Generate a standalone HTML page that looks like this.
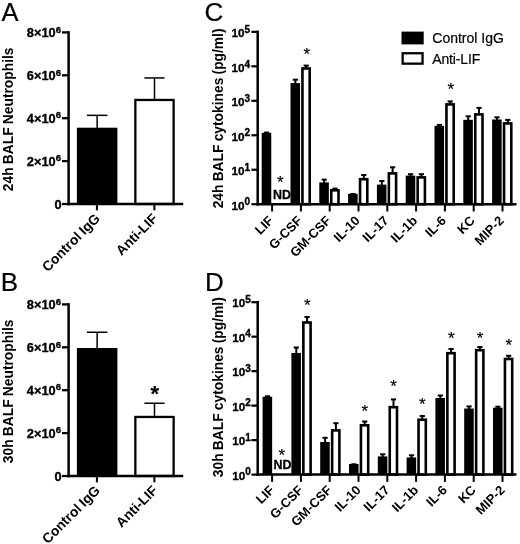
<!DOCTYPE html>
<html><head><meta charset="utf-8"><title>Figure</title>
<style>html,body{margin:0;padding:0;background:#fff}body{width:520px;height:544px;overflow:hidden}svg{display:block;filter:blur(0.4px)}text{font-family:"Liberation Sans", Arial, Helvetica, sans-serif}</style>
</head><body>
<svg width="520" height="544" viewBox="0 0 520 544" font-family='"Liberation Sans", Arial, Helvetica, sans-serif' fill="#000">
<text x="1.40" y="20.70" font-size="25.5" font-weight="normal" text-anchor="start" stroke="#000" stroke-width="0.2">A</text>
<text x="13.20" y="119.35" font-size="13.8" font-weight="bold" text-anchor="middle" transform="rotate(-90 13.20 119.35)" word-spacing="-0.6">24h BALF Neutrophils</text>
<line x1="97.15" y1="115.35" x2="97.15" y2="128.70" stroke="#000" stroke-width="1.5"/>
<line x1="86.90" y1="115.35" x2="107.40" y2="115.35" stroke="#000" stroke-width="1.5"/>
<rect x="76.90" y="127.70" width="40.50" height="76.30" fill="#000"/>
<line x1="154.50" y1="77.95" x2="154.50" y2="99.80" stroke="#000" stroke-width="1.5"/>
<line x1="144.40" y1="77.95" x2="164.60" y2="77.95" stroke="#000" stroke-width="1.5"/>
<rect x="135.35" y="99.95" width="38.30" height="104.05" fill="#fff" stroke="#000" stroke-width="2.3"/>
<line x1="68.60" y1="31.15" x2="68.60" y2="205.25" stroke="#000" stroke-width="2.5"/>
<line x1="67.35" y1="204.00" x2="183.20" y2="204.00" stroke="#000" stroke-width="2.5"/>
<line x1="62.00" y1="32.40" x2="68.60" y2="32.40" stroke="#000" stroke-width="2.3"/>
<text x="26.8" y="37.00" font-size="12.8" font-weight="bold" stroke="#000" stroke-width="0.35">8×10<tspan font-size="9.6" dy="-4.4">6</tspan></text>
<line x1="62.00" y1="75.30" x2="68.60" y2="75.30" stroke="#000" stroke-width="2.3"/>
<text x="26.8" y="79.90" font-size="12.8" font-weight="bold" stroke="#000" stroke-width="0.35">6×10<tspan font-size="9.6" dy="-4.4">6</tspan></text>
<line x1="62.00" y1="118.20" x2="68.60" y2="118.20" stroke="#000" stroke-width="2.3"/>
<text x="26.8" y="122.80" font-size="12.8" font-weight="bold" stroke="#000" stroke-width="0.35">4×10<tspan font-size="9.6" dy="-4.4">6</tspan></text>
<line x1="62.00" y1="161.10" x2="68.60" y2="161.10" stroke="#000" stroke-width="2.3"/>
<text x="26.8" y="165.70" font-size="12.8" font-weight="bold" stroke="#000" stroke-width="0.35">2×10<tspan font-size="9.6" dy="-4.4">6</tspan></text>
<line x1="62.00" y1="204.00" x2="68.60" y2="204.00" stroke="#000" stroke-width="2.3"/>
<text x="61.60" y="208.60" font-size="12.8" font-weight="bold" text-anchor="end" stroke="#000" stroke-width="0.35">0</text>
<line x1="96.90" y1="204.00" x2="96.90" y2="210.40" stroke="#000" stroke-width="2.0"/>
<text x="100.90" y="219.30" font-size="13.8" font-weight="bold" text-anchor="end" transform="rotate(-45 100.90 219.30)" word-spacing="-0.6">Control IgG</text>
<line x1="154.40" y1="204.00" x2="154.40" y2="210.40" stroke="#000" stroke-width="2.0"/>
<text x="158.40" y="219.30" font-size="13.8" font-weight="bold" text-anchor="end" transform="rotate(-45 158.40 219.30)" word-spacing="-0.6">Anti-LIF</text>
<text x="0.65" y="290.60" font-size="26" font-weight="normal" text-anchor="start" stroke="#000" stroke-width="0.2">B</text>
<text x="13.20" y="391.35" font-size="13.8" font-weight="bold" text-anchor="middle" transform="rotate(-90 13.20 391.35)" word-spacing="-0.6">30h BALF Neutrophils</text>
<line x1="97.15" y1="332.25" x2="97.15" y2="349.00" stroke="#000" stroke-width="1.5"/>
<line x1="86.90" y1="332.25" x2="107.40" y2="332.25" stroke="#000" stroke-width="1.5"/>
<rect x="76.90" y="348.00" width="40.50" height="128.00" fill="#000"/>
<line x1="154.50" y1="403.25" x2="154.50" y2="416.80" stroke="#000" stroke-width="1.5"/>
<line x1="144.40" y1="403.25" x2="164.60" y2="403.25" stroke="#000" stroke-width="1.5"/>
<rect x="135.35" y="416.95" width="38.30" height="59.05" fill="#fff" stroke="#000" stroke-width="2.3"/>
<line x1="68.60" y1="303.15" x2="68.60" y2="477.25" stroke="#000" stroke-width="2.5"/>
<line x1="67.35" y1="476.00" x2="183.20" y2="476.00" stroke="#000" stroke-width="2.5"/>
<line x1="62.00" y1="304.40" x2="68.60" y2="304.40" stroke="#000" stroke-width="2.3"/>
<text x="26.8" y="309.00" font-size="12.8" font-weight="bold" stroke="#000" stroke-width="0.35">8×10<tspan font-size="9.6" dy="-4.4">6</tspan></text>
<line x1="62.00" y1="347.30" x2="68.60" y2="347.30" stroke="#000" stroke-width="2.3"/>
<text x="26.8" y="351.90" font-size="12.8" font-weight="bold" stroke="#000" stroke-width="0.35">6×10<tspan font-size="9.6" dy="-4.4">6</tspan></text>
<line x1="62.00" y1="390.20" x2="68.60" y2="390.20" stroke="#000" stroke-width="2.3"/>
<text x="26.8" y="394.80" font-size="12.8" font-weight="bold" stroke="#000" stroke-width="0.35">4×10<tspan font-size="9.6" dy="-4.4">6</tspan></text>
<line x1="62.00" y1="433.10" x2="68.60" y2="433.10" stroke="#000" stroke-width="2.3"/>
<text x="26.8" y="437.70" font-size="12.8" font-weight="bold" stroke="#000" stroke-width="0.35">2×10<tspan font-size="9.6" dy="-4.4">6</tspan></text>
<line x1="62.00" y1="476.00" x2="68.60" y2="476.00" stroke="#000" stroke-width="2.3"/>
<text x="61.60" y="480.60" font-size="12.8" font-weight="bold" text-anchor="end" stroke="#000" stroke-width="0.35">0</text>
<line x1="96.90" y1="476.00" x2="96.90" y2="482.40" stroke="#000" stroke-width="2.0"/>
<text x="100.90" y="491.30" font-size="13.8" font-weight="bold" text-anchor="end" transform="rotate(-45 100.90 491.30)" word-spacing="-0.6">Control IgG</text>
<line x1="154.40" y1="476.00" x2="154.40" y2="482.40" stroke="#000" stroke-width="2.0"/>
<text x="158.40" y="491.30" font-size="13.8" font-weight="bold" text-anchor="end" transform="rotate(-45 158.40 491.30)" word-spacing="-0.6">Anti-LIF</text>
<text x="154.70" y="400.67" font-size="22" font-weight="bold" text-anchor="middle" stroke="#000" stroke-width="0.2">*</text>
<text x="204.50" y="20.50" font-size="26" font-weight="normal" text-anchor="start" stroke="#000" stroke-width="0.2">C</text>
<text x="222.80" y="118.40" font-size="13.8" font-weight="bold" text-anchor="middle" transform="rotate(-90 222.80 118.40)" word-spacing="-0.6">24h BALF cytokines (pg/ml)</text>
<line x1="266.60" y1="132.60" x2="266.60" y2="133.80" stroke="#000" stroke-width="2.0"/>
<line x1="264.00" y1="132.60" x2="269.20" y2="132.60" stroke="#000" stroke-width="2.0"/>
<rect x="261.70" y="132.80" width="9.55" height="71.40" fill="#000"/>
<line x1="295.40" y1="79.70" x2="295.40" y2="84.10" stroke="#000" stroke-width="2.0"/>
<line x1="292.80" y1="79.70" x2="298.00" y2="79.70" stroke="#000" stroke-width="2.0"/>
<rect x="290.50" y="83.10" width="9.55" height="121.10" fill="#000"/>
<line x1="306.20" y1="65.60" x2="306.20" y2="68.20" stroke="#000" stroke-width="2.0"/>
<line x1="303.60" y1="65.60" x2="308.80" y2="65.60" stroke="#000" stroke-width="2.0"/>
<rect x="302.45" y="68.50" width="7.25" height="135.70" fill="#fff" stroke="#000" stroke-width="2.6"/>
<line x1="324.20" y1="179.60" x2="324.20" y2="183.40" stroke="#000" stroke-width="2.0"/>
<line x1="321.60" y1="179.60" x2="326.80" y2="179.60" stroke="#000" stroke-width="2.0"/>
<rect x="319.30" y="182.40" width="9.55" height="21.80" fill="#000"/>
<line x1="335.00" y1="188.60" x2="335.00" y2="190.00" stroke="#000" stroke-width="2.0"/>
<line x1="332.40" y1="188.60" x2="337.60" y2="188.60" stroke="#000" stroke-width="2.0"/>
<rect x="331.25" y="190.30" width="7.25" height="13.90" fill="#fff" stroke="#000" stroke-width="2.6"/>
<line x1="353.00" y1="194.00" x2="353.00" y2="194.80" stroke="#000" stroke-width="2.0"/>
<line x1="350.40" y1="194.00" x2="355.60" y2="194.00" stroke="#000" stroke-width="2.0"/>
<rect x="348.10" y="193.80" width="9.55" height="10.40" fill="#000"/>
<line x1="363.80" y1="175.00" x2="363.80" y2="178.90" stroke="#000" stroke-width="2.0"/>
<line x1="361.20" y1="175.00" x2="366.40" y2="175.00" stroke="#000" stroke-width="2.0"/>
<rect x="360.05" y="179.20" width="7.25" height="25.00" fill="#fff" stroke="#000" stroke-width="2.6"/>
<line x1="381.80" y1="181.00" x2="381.80" y2="185.60" stroke="#000" stroke-width="2.0"/>
<line x1="379.20" y1="181.00" x2="384.40" y2="181.00" stroke="#000" stroke-width="2.0"/>
<rect x="376.90" y="184.60" width="9.55" height="19.60" fill="#000"/>
<line x1="392.60" y1="167.30" x2="392.60" y2="173.10" stroke="#000" stroke-width="2.0"/>
<line x1="390.00" y1="167.30" x2="395.20" y2="167.30" stroke="#000" stroke-width="2.0"/>
<rect x="388.85" y="173.40" width="7.25" height="30.80" fill="#fff" stroke="#000" stroke-width="2.6"/>
<line x1="410.60" y1="174.20" x2="410.60" y2="176.60" stroke="#000" stroke-width="2.0"/>
<line x1="408.00" y1="174.20" x2="413.20" y2="174.20" stroke="#000" stroke-width="2.0"/>
<rect x="405.70" y="175.60" width="9.55" height="28.60" fill="#000"/>
<line x1="421.40" y1="174.20" x2="421.40" y2="177.10" stroke="#000" stroke-width="2.0"/>
<line x1="418.80" y1="174.20" x2="424.00" y2="174.20" stroke="#000" stroke-width="2.0"/>
<rect x="417.65" y="177.40" width="7.25" height="26.80" fill="#fff" stroke="#000" stroke-width="2.6"/>
<line x1="439.40" y1="124.90" x2="439.40" y2="126.85" stroke="#000" stroke-width="2.0"/>
<line x1="436.80" y1="124.90" x2="442.00" y2="124.90" stroke="#000" stroke-width="2.0"/>
<rect x="434.50" y="125.85" width="9.55" height="78.35" fill="#000"/>
<line x1="450.20" y1="101.40" x2="450.20" y2="104.10" stroke="#000" stroke-width="2.0"/>
<line x1="447.60" y1="101.40" x2="452.80" y2="101.40" stroke="#000" stroke-width="2.0"/>
<rect x="446.45" y="104.40" width="7.25" height="99.80" fill="#fff" stroke="#000" stroke-width="2.6"/>
<line x1="468.20" y1="116.30" x2="468.20" y2="120.80" stroke="#000" stroke-width="2.0"/>
<line x1="465.60" y1="116.30" x2="470.80" y2="116.30" stroke="#000" stroke-width="2.0"/>
<rect x="463.30" y="119.80" width="9.55" height="84.40" fill="#000"/>
<line x1="479.00" y1="107.90" x2="479.00" y2="114.10" stroke="#000" stroke-width="2.0"/>
<line x1="476.40" y1="107.90" x2="481.60" y2="107.90" stroke="#000" stroke-width="2.0"/>
<rect x="475.25" y="114.40" width="7.25" height="89.80" fill="#fff" stroke="#000" stroke-width="2.6"/>
<line x1="497.00" y1="117.30" x2="497.00" y2="120.50" stroke="#000" stroke-width="2.0"/>
<line x1="494.40" y1="117.30" x2="499.60" y2="117.30" stroke="#000" stroke-width="2.0"/>
<rect x="492.10" y="119.50" width="9.55" height="84.70" fill="#000"/>
<line x1="507.80" y1="119.90" x2="507.80" y2="123.10" stroke="#000" stroke-width="2.0"/>
<line x1="505.20" y1="119.90" x2="510.40" y2="119.90" stroke="#000" stroke-width="2.0"/>
<rect x="504.05" y="123.40" width="7.25" height="80.80" fill="#fff" stroke="#000" stroke-width="2.6"/>
<line x1="257.70" y1="30.60" x2="257.70" y2="205.45" stroke="#000" stroke-width="2.5"/>
<line x1="256.45" y1="204.20" x2="516.50" y2="204.20" stroke="#000" stroke-width="2.5"/>
<line x1="251.40" y1="31.85" x2="257.70" y2="31.85" stroke="#000" stroke-width="2.2"/>
<text x="231.6" y="37.35" font-size="11.7" font-weight="bold" stroke="#000" stroke-width="0.35">10<tspan font-size="10" dy="-4.3">5</tspan></text>
<line x1="251.40" y1="66.32" x2="257.70" y2="66.32" stroke="#000" stroke-width="2.2"/>
<text x="231.6" y="71.82" font-size="11.7" font-weight="bold" stroke="#000" stroke-width="0.35">10<tspan font-size="10" dy="-4.3">4</tspan></text>
<line x1="251.40" y1="100.79" x2="257.70" y2="100.79" stroke="#000" stroke-width="2.2"/>
<text x="231.6" y="106.29" font-size="11.7" font-weight="bold" stroke="#000" stroke-width="0.35">10<tspan font-size="10" dy="-4.3">3</tspan></text>
<line x1="251.40" y1="135.26" x2="257.70" y2="135.26" stroke="#000" stroke-width="2.2"/>
<text x="231.6" y="140.76" font-size="11.7" font-weight="bold" stroke="#000" stroke-width="0.35">10<tspan font-size="10" dy="-4.3">2</tspan></text>
<line x1="251.40" y1="169.73" x2="257.70" y2="169.73" stroke="#000" stroke-width="2.2"/>
<text x="231.6" y="175.23" font-size="11.7" font-weight="bold" stroke="#000" stroke-width="0.35">10<tspan font-size="10" dy="-4.3">1</tspan></text>
<line x1="251.40" y1="204.20" x2="257.70" y2="204.20" stroke="#000" stroke-width="2.2"/>
<text x="231.6" y="209.70" font-size="11.7" font-weight="bold" stroke="#000" stroke-width="0.35">10<tspan font-size="10" dy="-4.3">0</tspan></text>
<line x1="272.10" y1="204.20" x2="272.10" y2="211.50" stroke="#000" stroke-width="2.0"/>
<text x="274.10" y="221.40" font-size="13" font-weight="bold" text-anchor="end" transform="rotate(-45 274.10 221.40)">LIF</text>
<line x1="300.90" y1="204.20" x2="300.90" y2="211.50" stroke="#000" stroke-width="2.0"/>
<text x="302.90" y="221.40" font-size="13" font-weight="bold" text-anchor="end" transform="rotate(-45 302.90 221.40)">G-CSF</text>
<line x1="329.70" y1="204.20" x2="329.70" y2="211.50" stroke="#000" stroke-width="2.0"/>
<text x="331.70" y="221.40" font-size="13" font-weight="bold" text-anchor="end" transform="rotate(-45 331.70 221.40)">GM-CSF</text>
<line x1="358.50" y1="204.20" x2="358.50" y2="211.50" stroke="#000" stroke-width="2.0"/>
<text x="360.50" y="221.40" font-size="13" font-weight="bold" text-anchor="end" transform="rotate(-45 360.50 221.40)">IL-10</text>
<line x1="387.30" y1="204.20" x2="387.30" y2="211.50" stroke="#000" stroke-width="2.0"/>
<text x="389.30" y="221.40" font-size="13" font-weight="bold" text-anchor="end" transform="rotate(-45 389.30 221.40)">IL-17</text>
<line x1="416.10" y1="204.20" x2="416.10" y2="211.50" stroke="#000" stroke-width="2.0"/>
<text x="418.10" y="221.40" font-size="13" font-weight="bold" text-anchor="end" transform="rotate(-45 418.10 221.40)">IL-1b</text>
<line x1="444.90" y1="204.20" x2="444.90" y2="211.50" stroke="#000" stroke-width="2.0"/>
<text x="446.90" y="221.40" font-size="13" font-weight="bold" text-anchor="end" transform="rotate(-45 446.90 221.40)">IL-6</text>
<line x1="473.70" y1="204.20" x2="473.70" y2="211.50" stroke="#000" stroke-width="2.0"/>
<text x="475.70" y="221.40" font-size="13" font-weight="bold" text-anchor="end" transform="rotate(-45 475.70 221.40)">KC</text>
<line x1="502.50" y1="204.20" x2="502.50" y2="211.50" stroke="#000" stroke-width="2.0"/>
<text x="504.50" y="221.40" font-size="13" font-weight="bold" text-anchor="end" transform="rotate(-45 504.50 221.40)">MIP-2</text>
<text x="306.80" y="60.10" font-size="17" font-weight="normal" text-anchor="middle" stroke="#000" stroke-width="0.2">*</text>
<text x="450.70" y="94.90" font-size="17" font-weight="normal" text-anchor="middle" stroke="#000" stroke-width="0.2">*</text>
<text x="280.40" y="187.80" font-size="17" font-weight="normal" text-anchor="middle" stroke="#000" stroke-width="0.2">*</text>
<text x="282.00" y="198.50" font-size="12.4" font-weight="bold" text-anchor="middle" stroke="#000" stroke-width="0.3">ND</text>
<text x="204.90" y="291.00" font-size="26" font-weight="normal" text-anchor="start" stroke="#000" stroke-width="0.2">D</text>
<text x="222.80" y="387.20" font-size="13.8" font-weight="bold" text-anchor="middle" transform="rotate(-90 222.80 387.20)" word-spacing="-0.6">30h BALF cytokines (pg/ml)</text>
<line x1="267.50" y1="396.30" x2="267.50" y2="397.80" stroke="#000" stroke-width="2.0"/>
<line x1="264.90" y1="396.30" x2="270.10" y2="396.30" stroke="#000" stroke-width="2.0"/>
<rect x="262.60" y="396.80" width="9.55" height="77.80" fill="#000"/>
<line x1="296.30" y1="347.50" x2="296.30" y2="354.00" stroke="#000" stroke-width="2.0"/>
<line x1="293.70" y1="347.50" x2="298.90" y2="347.50" stroke="#000" stroke-width="2.0"/>
<rect x="291.40" y="353.00" width="9.55" height="121.60" fill="#000"/>
<line x1="307.10" y1="317.00" x2="307.10" y2="322.20" stroke="#000" stroke-width="2.0"/>
<line x1="304.50" y1="317.00" x2="309.70" y2="317.00" stroke="#000" stroke-width="2.0"/>
<rect x="303.35" y="322.50" width="7.25" height="152.10" fill="#fff" stroke="#000" stroke-width="2.6"/>
<line x1="325.10" y1="437.80" x2="325.10" y2="443.00" stroke="#000" stroke-width="2.0"/>
<line x1="322.50" y1="437.80" x2="327.70" y2="437.80" stroke="#000" stroke-width="2.0"/>
<rect x="320.20" y="442.00" width="9.55" height="32.60" fill="#000"/>
<line x1="335.90" y1="423.20" x2="335.90" y2="430.10" stroke="#000" stroke-width="2.0"/>
<line x1="333.30" y1="423.20" x2="338.50" y2="423.20" stroke="#000" stroke-width="2.0"/>
<rect x="332.15" y="430.40" width="7.25" height="44.20" fill="#fff" stroke="#000" stroke-width="2.6"/>
<line x1="353.90" y1="464.30" x2="353.90" y2="465.00" stroke="#000" stroke-width="2.0"/>
<line x1="351.30" y1="464.30" x2="356.50" y2="464.30" stroke="#000" stroke-width="2.0"/>
<rect x="349.00" y="464.00" width="9.55" height="10.60" fill="#000"/>
<line x1="364.70" y1="421.50" x2="364.70" y2="425.00" stroke="#000" stroke-width="2.0"/>
<line x1="362.10" y1="421.50" x2="367.30" y2="421.50" stroke="#000" stroke-width="2.0"/>
<rect x="360.95" y="425.30" width="7.25" height="49.30" fill="#fff" stroke="#000" stroke-width="2.6"/>
<line x1="382.70" y1="454.30" x2="382.70" y2="457.40" stroke="#000" stroke-width="2.0"/>
<line x1="380.10" y1="454.30" x2="385.30" y2="454.30" stroke="#000" stroke-width="2.0"/>
<rect x="377.80" y="456.40" width="9.55" height="18.20" fill="#000"/>
<line x1="393.50" y1="399.40" x2="393.50" y2="406.90" stroke="#000" stroke-width="2.0"/>
<line x1="390.90" y1="399.40" x2="396.10" y2="399.40" stroke="#000" stroke-width="2.0"/>
<rect x="389.75" y="407.20" width="7.25" height="67.40" fill="#fff" stroke="#000" stroke-width="2.6"/>
<line x1="411.50" y1="455.30" x2="411.50" y2="458.40" stroke="#000" stroke-width="2.0"/>
<line x1="408.90" y1="455.30" x2="414.10" y2="455.30" stroke="#000" stroke-width="2.0"/>
<rect x="406.60" y="457.40" width="9.55" height="17.20" fill="#000"/>
<line x1="422.30" y1="416.00" x2="422.30" y2="419.40" stroke="#000" stroke-width="2.0"/>
<line x1="419.70" y1="416.00" x2="424.90" y2="416.00" stroke="#000" stroke-width="2.0"/>
<rect x="418.55" y="419.70" width="7.25" height="54.90" fill="#fff" stroke="#000" stroke-width="2.6"/>
<line x1="440.30" y1="395.50" x2="440.30" y2="399.00" stroke="#000" stroke-width="2.0"/>
<line x1="437.70" y1="395.50" x2="442.90" y2="395.50" stroke="#000" stroke-width="2.0"/>
<rect x="435.40" y="398.00" width="9.55" height="76.60" fill="#000"/>
<line x1="451.10" y1="349.00" x2="451.10" y2="352.90" stroke="#000" stroke-width="2.0"/>
<line x1="448.50" y1="349.00" x2="453.70" y2="349.00" stroke="#000" stroke-width="2.0"/>
<rect x="447.35" y="353.20" width="7.25" height="121.40" fill="#fff" stroke="#000" stroke-width="2.6"/>
<line x1="469.10" y1="406.40" x2="469.10" y2="409.50" stroke="#000" stroke-width="2.0"/>
<line x1="466.50" y1="406.40" x2="471.70" y2="406.40" stroke="#000" stroke-width="2.0"/>
<rect x="464.20" y="408.50" width="9.55" height="66.10" fill="#000"/>
<line x1="479.90" y1="347.00" x2="479.90" y2="349.90" stroke="#000" stroke-width="2.0"/>
<line x1="477.30" y1="347.00" x2="482.50" y2="347.00" stroke="#000" stroke-width="2.0"/>
<rect x="476.15" y="350.20" width="7.25" height="124.40" fill="#fff" stroke="#000" stroke-width="2.6"/>
<line x1="497.90" y1="406.70" x2="497.90" y2="408.70" stroke="#000" stroke-width="2.0"/>
<line x1="495.30" y1="406.70" x2="500.50" y2="406.70" stroke="#000" stroke-width="2.0"/>
<rect x="493.00" y="407.70" width="9.55" height="66.90" fill="#000"/>
<line x1="508.70" y1="355.80" x2="508.70" y2="358.70" stroke="#000" stroke-width="2.0"/>
<line x1="506.10" y1="355.80" x2="511.30" y2="355.80" stroke="#000" stroke-width="2.0"/>
<rect x="504.95" y="359.00" width="7.25" height="115.60" fill="#fff" stroke="#000" stroke-width="2.6"/>
<line x1="257.70" y1="300.95" x2="257.70" y2="475.85" stroke="#000" stroke-width="2.5"/>
<line x1="256.45" y1="474.60" x2="516.50" y2="474.60" stroke="#000" stroke-width="2.5"/>
<line x1="251.40" y1="302.20" x2="257.70" y2="302.20" stroke="#000" stroke-width="2.2"/>
<text x="232.2" y="307.20" font-size="11.7" font-weight="bold" stroke="#000" stroke-width="0.35">10<tspan font-size="10" dy="-4.3">5</tspan></text>
<line x1="251.40" y1="336.68" x2="257.70" y2="336.68" stroke="#000" stroke-width="2.2"/>
<text x="232.2" y="341.68" font-size="11.7" font-weight="bold" stroke="#000" stroke-width="0.35">10<tspan font-size="10" dy="-4.3">4</tspan></text>
<line x1="251.40" y1="371.16" x2="257.70" y2="371.16" stroke="#000" stroke-width="2.2"/>
<text x="232.2" y="376.16" font-size="11.7" font-weight="bold" stroke="#000" stroke-width="0.35">10<tspan font-size="10" dy="-4.3">3</tspan></text>
<line x1="251.40" y1="405.64" x2="257.70" y2="405.64" stroke="#000" stroke-width="2.2"/>
<text x="232.2" y="410.64" font-size="11.7" font-weight="bold" stroke="#000" stroke-width="0.35">10<tspan font-size="10" dy="-4.3">2</tspan></text>
<line x1="251.40" y1="440.12" x2="257.70" y2="440.12" stroke="#000" stroke-width="2.2"/>
<text x="232.2" y="445.12" font-size="11.7" font-weight="bold" stroke="#000" stroke-width="0.35">10<tspan font-size="10" dy="-4.3">1</tspan></text>
<line x1="251.40" y1="474.60" x2="257.70" y2="474.60" stroke="#000" stroke-width="2.2"/>
<text x="232.2" y="479.60" font-size="11.7" font-weight="bold" stroke="#000" stroke-width="0.35">10<tspan font-size="10" dy="-4.3">0</tspan></text>
<line x1="272.10" y1="474.60" x2="272.10" y2="481.90" stroke="#000" stroke-width="2.0"/>
<text x="275.10" y="490.80" font-size="13" font-weight="bold" text-anchor="end" transform="rotate(-45 275.10 490.80)">LIF</text>
<line x1="300.90" y1="474.60" x2="300.90" y2="481.90" stroke="#000" stroke-width="2.0"/>
<text x="303.90" y="490.80" font-size="13" font-weight="bold" text-anchor="end" transform="rotate(-45 303.90 490.80)">G-CSF</text>
<line x1="329.70" y1="474.60" x2="329.70" y2="481.90" stroke="#000" stroke-width="2.0"/>
<text x="332.70" y="490.80" font-size="13" font-weight="bold" text-anchor="end" transform="rotate(-45 332.70 490.80)">GM-CSF</text>
<line x1="358.50" y1="474.60" x2="358.50" y2="481.90" stroke="#000" stroke-width="2.0"/>
<text x="361.50" y="490.80" font-size="13" font-weight="bold" text-anchor="end" transform="rotate(-45 361.50 490.80)">IL-10</text>
<line x1="387.30" y1="474.60" x2="387.30" y2="481.90" stroke="#000" stroke-width="2.0"/>
<text x="390.30" y="490.80" font-size="13" font-weight="bold" text-anchor="end" transform="rotate(-45 390.30 490.80)">IL-17</text>
<line x1="416.10" y1="474.60" x2="416.10" y2="481.90" stroke="#000" stroke-width="2.0"/>
<text x="419.10" y="490.80" font-size="13" font-weight="bold" text-anchor="end" transform="rotate(-45 419.10 490.80)">IL-1b</text>
<line x1="444.90" y1="474.60" x2="444.90" y2="481.90" stroke="#000" stroke-width="2.0"/>
<text x="447.90" y="490.80" font-size="13" font-weight="bold" text-anchor="end" transform="rotate(-45 447.90 490.80)">IL-6</text>
<line x1="473.70" y1="474.60" x2="473.70" y2="481.90" stroke="#000" stroke-width="2.0"/>
<text x="476.70" y="490.80" font-size="13" font-weight="bold" text-anchor="end" transform="rotate(-45 476.70 490.80)">KC</text>
<line x1="502.50" y1="474.60" x2="502.50" y2="481.90" stroke="#000" stroke-width="2.0"/>
<text x="505.50" y="490.80" font-size="13" font-weight="bold" text-anchor="end" transform="rotate(-45 505.50 490.80)">MIP-2</text>
<text x="307.30" y="310.80" font-size="17" font-weight="normal" text-anchor="middle" stroke="#000" stroke-width="0.2">*</text>
<text x="281.70" y="460.50" font-size="17" font-weight="normal" text-anchor="middle" stroke="#000" stroke-width="0.2">*</text>
<text x="364.70" y="416.70" font-size="17" font-weight="normal" text-anchor="middle" stroke="#000" stroke-width="0.2">*</text>
<text x="393.60" y="392.00" font-size="17" font-weight="normal" text-anchor="middle" stroke="#000" stroke-width="0.2">*</text>
<text x="422.30" y="410.20" font-size="17" font-weight="normal" text-anchor="middle" stroke="#000" stroke-width="0.2">*</text>
<text x="451.20" y="343.60" font-size="17" font-weight="normal" text-anchor="middle" stroke="#000" stroke-width="0.2">*</text>
<text x="480.00" y="343.60" font-size="17" font-weight="normal" text-anchor="middle" stroke="#000" stroke-width="0.2">*</text>
<text x="508.80" y="351.10" font-size="17" font-weight="normal" text-anchor="middle" stroke="#000" stroke-width="0.2">*</text>
<text x="282.40" y="468.70" font-size="12.4" font-weight="bold" text-anchor="middle" stroke="#000" stroke-width="0.3">ND</text>
<rect x="401.5" y="31.6" width="22.2" height="12.8" fill="#000"/>
<rect x="402.65" y="53.25" width="19.9" height="10.399999999999999" fill="#fff" stroke="#000" stroke-width="2.3"/>
<text x="432.30" y="43.30" font-size="14" font-weight="normal" text-anchor="start" stroke="#000" stroke-width="0.2">Control IgG</text>
<text x="432.30" y="63.50" font-size="14" font-weight="normal" text-anchor="start" stroke="#000" stroke-width="0.2" letter-spacing="-0.15">Anti-LIF</text>
</svg>
</body></html>
